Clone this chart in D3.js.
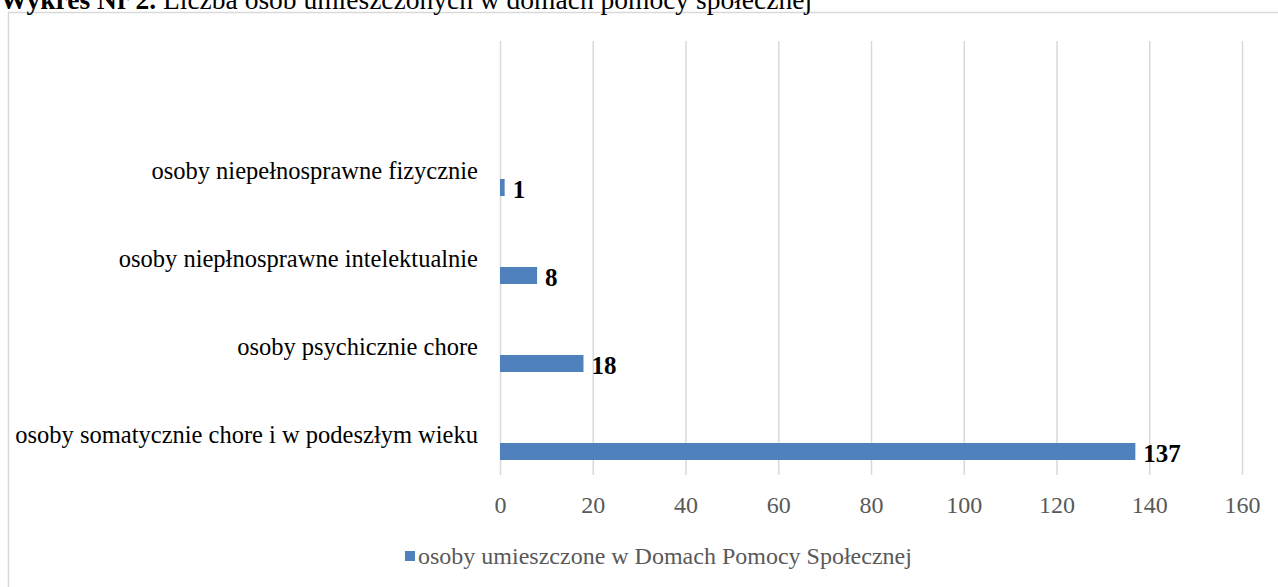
<!DOCTYPE html>
<html>
<head>
<meta charset="utf-8">
<script src="https://cdn.jsdelivr.net/npm/d3@7"></script>
<style>
  html, body { margin: 0; padding: 0; background: #fff; }
  svg { display: block; font-family: "Times New Roman", "Liberation Serif", serif; }
  .grid line { stroke: #d9d9d9; stroke-width: 1.5; }
  .xlab text { fill: #595959; font-size: 24px; }
  .ylab text { fill: #000; font-size: 24.5px; }
</style>
</head>
<body>
<div id="chart"></div>
<script>
// data
var categories = [
  "osoby niepełnosprawne fizycznie",
  "osoby niepłnosprawne intelektualnie",
  "osoby psychicznie chore",
  "osoby somatycznie chore i w podeszłym wieku"
]
var values = [1, 8, 18, 137]
var seriesName = "osoby umieszczone w Domach Pomocy Społecznej"
var xTicks = [0, 20, 40, 60, 80, 100, 120, 140, 160]

var width = 1278, height = 587
var plot = { left: 500, right: 1242, top: 41, bottom: 475 }

var svg = d3.select("#chart").append("svg")
  .attr("width", width)
  .attr("height", height)

// frame of the chart object
svg.append("rect")
  .attr("x", 8.5).attr("y", 12.5)
  .attr("width", width).attr("height", height)
  .attr("fill", "none")
  .attr("stroke", "#d9d9d9")
  .attr("stroke-width", 1.5)

// title (cut off at the top of the page, as in the source)
var title = svg.append("text")
  .attr("x", 0).attr("y", 9)
  .style("font-size", "27.5px")
  .attr("fill", "#000")
title.append("tspan").style("font-weight", "bold").text("Wykres Nr 2.")
title.append("tspan").text(" Liczba osób umieszczonych w domach pomocy społecznej")

var x = d3.scaleLinear().domain([0, 160]).range([plot.left, plot.right])

// one empty slot on top, so the 4 categories take the lower slots
var y = d3.scaleBand().domain(categories).range([127, 479])

function plain(g) {
  g.attr("font-family", null).attr("font-size", null)
  g.select(".domain").remove()
}

// gridlines
svg.append("g")
  .attr("class", "grid")
  .attr("transform", "translate(0," + plot.bottom + ")")
  .call(d3.axisBottom(x).tickValues(xTicks).tickSize(-(plot.bottom - plot.top)).tickFormat(""))
  .call(plain)

// x tick labels
svg.append("g")
  .attr("class", "xlab")
  .attr("transform", "translate(0," + plot.bottom + ")")
  .call(d3.axisBottom(x).tickValues(xTicks).tickSize(0).tickPadding(21))
  .call(plain)

// category labels
svg.append("g")
  .attr("class", "ylab")
  .attr("transform", "translate(" + plot.left + ",0)")
  .call(d3.axisLeft(y).tickSize(0).tickPadding(22))
  .call(plain)

// bars sit in the lower part of each slot
var barH = 17, barOff = 8

svg.selectAll(".bar")
  .data(values)
  .enter().append("rect")
  .attr("class", "bar")
  .attr("x", x(0))
  .attr("y", (d, i) => y(categories[i]) + y.bandwidth() / 2 + barOff)
  .attr("width", d => x(d) - x(0))
  .attr("height", barH)
  .attr("fill", "#4f81bd")

svg.selectAll(".val")
  .data(values)
  .enter().append("text")
  .attr("class", "val")
  .attr("x", d => x(d) + 8)
  .attr("y", (d, i) => y(categories[i]) + y.bandwidth() / 2 + barOff + barH / 2 + 2)
  .attr("dy", "0.35em")
  .style("font-size", "25px")
  .style("font-weight", "bold")
  .attr("fill", "#000")
  .text(d => d)

// legend
var legend = svg.append("g").attr("transform", "translate(405,551)")
legend.append("rect")
  .attr("width", 10).attr("height", 10)
  .attr("fill", "#4f81bd")
legend.append("text")
  .attr("x", 13).attr("y", 5)
  .attr("dy", "0.35em")
  .style("font-size", "24px")
  .attr("fill", "#595959")
  .text(seriesName)
</script>
</body>
</html>
